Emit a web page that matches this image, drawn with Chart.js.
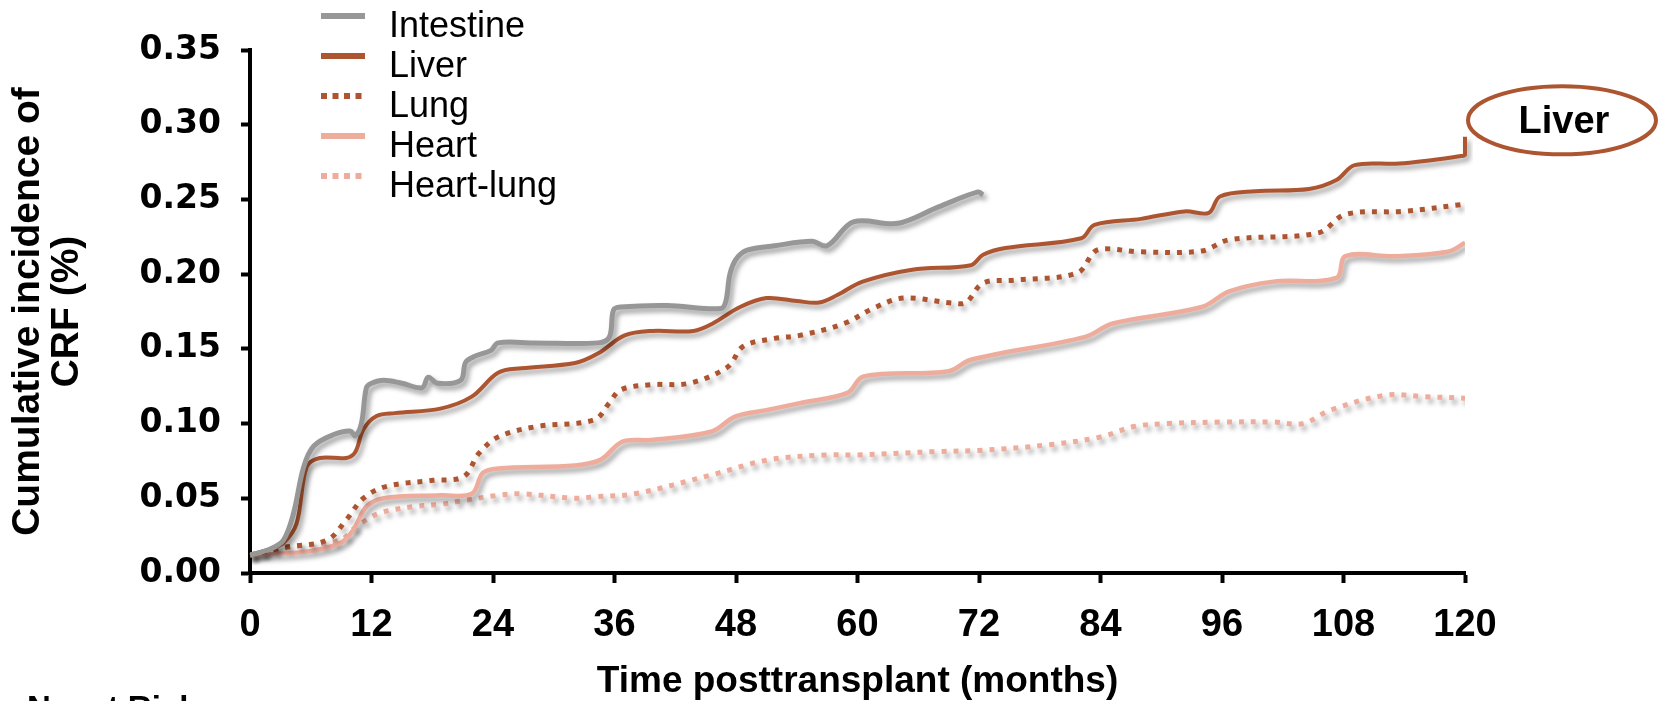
<!DOCTYPE html>
<html>
<head>
<meta charset="utf-8">
<script src="https://cdn.jsdelivr.net/npm/chart.js@4/dist/chart.umd.min.js"></script>
<style>
  body { margin: 0; background: #fff; }
  canvas { display: block; }
</style>
</head>
<body>
<canvas id="crfChart" width="1663" height="701"></canvas>
<script>
const ctx = document.getElementById('crfChart').getContext('2d');

// months posttransplant and cumulative incidence
const intestineMonths = [0, 2, 3.3, 4.3, 5.3, 6.3, 8.2, 9.9, 10.4, 11, 11.5, 12, 13.2, 15, 17, 17.6, 18.5, 20.8, 21.3, 22.2, 23.8, 24.5, 28, 34.4, 35.5, 35.9, 36.6, 41.2, 46.5, 47, 47.4, 48, 49.1, 51.8, 55.5, 57, 59.6, 64, 68, 71.9, 72.4];
const intestineCif = [0.012, 0.016, 0.022, 0.040, 0.071, 0.085, 0.0925, 0.095, 0.092, 0.100, 0.124, 0.127, 0.129, 0.127, 0.124, 0.131, 0.127, 0.129, 0.141, 0.145, 0.149, 0.154, 0.154, 0.154, 0.158, 0.176, 0.178, 0.179, 0.177, 0.182, 0.200, 0.210, 0.216, 0.219, 0.222, 0.219, 0.235, 0.234, 0.245, 0.255, 0.253];

const liverMonths = [0, 2, 3.3, 4.6, 5.6, 6.9, 9.5, 10.4, 11.2, 12.5, 14.3, 18.8, 21.9, 24.5, 26.8, 32.1, 34.4, 37, 39.7, 43.8, 45.7, 48.4, 51, 54, 56.2, 58, 60.5, 65.4, 71.2, 72.4, 74.6, 82.1, 83.4, 88, 92.3, 94.7, 95.8, 99.3, 104.6, 107.3, 109.1, 113.5, 119.6, 120, 120];
const liverCif = [0.012, 0.016, 0.020, 0.033, 0.071, 0.077, 0.077, 0.081, 0.096, 0.105, 0.107, 0.110, 0.118, 0.134, 0.137, 0.1405, 0.147, 0.159, 0.162, 0.162, 0.167, 0.178, 0.184, 0.182, 0.181, 0.186, 0.195, 0.203, 0.206, 0.213, 0.2175, 0.224, 0.233, 0.237, 0.242, 0.241, 0.252, 0.2555, 0.257, 0.263, 0.273, 0.274, 0.279, 0.280, 0.292];

const lungMonths = [0, 3.3, 7.6, 9.5, 11.2, 13.5, 18.1, 21.1, 22.6, 24.5, 28.3, 34, 35.5, 36.6, 39.6, 43.4, 47.2, 48.7, 51.8, 54.3, 58.7, 61.5, 64.5, 69.3, 70.7, 72.4, 75.5, 81.7, 83.4, 84.5, 87.8, 94, 96.7, 105.5, 108.2, 113.9, 119.7];
const lungCif = [0.012, 0.017, 0.022, 0.0355, 0.050, 0.058, 0.062, 0.0645, 0.080, 0.091, 0.098, 0.1025, 0.114, 0.1226, 0.126, 0.127, 0.138, 0.1516, 0.157, 0.159, 0.167, 0.177, 0.184, 0.1807, 0.181, 0.194, 0.196, 0.2008, 0.215, 0.217, 0.215, 0.2155, 0.223, 0.2276, 0.240, 0.242, 0.2466];

const heartMonths = [0, 5.6, 8.9, 10.2, 11.5, 13.2, 18.8, 21.9, 23, 24.5, 32.1, 34.6, 36.8, 39.6, 45.6, 47.9, 51, 54.3, 59, 60.6, 69, 71.2, 82.5, 85.2, 94, 96.7, 101.1, 107.3, 108.2, 113, 118.3, 120];
const heartCif = [0.012, 0.0143, 0.020, 0.0288, 0.0444, 0.050, 0.052, 0.053, 0.067, 0.070, 0.072, 0.0757, 0.088, 0.089, 0.0947, 0.1047, 0.109, 0.1137, 0.1205, 0.1315, 0.135, 0.1427, 0.158, 0.167, 0.178, 0.1885, 0.195, 0.1975, 0.212, 0.212, 0.215, 0.221];

const heartLungMonths = [0, 4.3, 8.9, 10.5, 12.8, 16.1, 18.8, 20.7, 24.5, 26.8, 32.1, 34, 38, 45.6, 51.2, 56.8, 60, 67.9, 72, 78.9, 84, 87.3, 90.6, 96, 101.1, 104, 106.7, 112.2, 116, 120];
const heartLungCif = [0.012, 0.0176, 0.022, 0.031, 0.040, 0.0444, 0.046, 0.048, 0.052, 0.053, 0.050, 0.051, 0.053, 0.0657, 0.0757, 0.079, 0.079, 0.0813, 0.082, 0.0858, 0.091, 0.098, 0.100, 0.101, 0.101, 0.100, 0.109, 0.119, 0.118, 0.117];

const xTicks = [0, 12, 24, 36, 48, 60, 72, 84, 96, 108, 120];
const yTicks = ['0.00', '0.05', '0.10', '0.15', '0.20', '0.25', '0.30', '0.35'];

const toPoints = (xs, ys) => xs.map((x, i) => ({ x: x, y: ys[i] }));

const grey = '#979797';
const rust = '#AD5530';
const salmon = '#EEAC9D';

const data = {
    datasets: [
        { label: 'Intestine', data: toPoints(intestineMonths, intestineCif), borderColor: grey, borderWidth: 5 },
        { label: 'Liver', data: toPoints(liverMonths, liverCif), borderColor: rust, borderWidth: 4, clip: 8 },
        { label: 'Lung', data: toPoints(lungMonths, lungCif), borderColor: rust, borderWidth: 5, borderDash: [5, 7] },
        { label: 'Heart', data: toPoints(heartMonths, heartCif), borderColor: salmon, borderWidth: 4.5 },
        { label: 'Heart-lung', data: toPoints(heartLungMonths, heartLungCif), borderColor: salmon, borderWidth: 5, borderDash: [5, 7] }
    ]
};

// soft drop shadow under every curve
const shadowPlugin = {
    id: 'curveShadow',
    beforeDatasetDraw(chart) {
        const c = chart.ctx;
        c.save();
        c.shadowColor = 'rgba(0,0,0,0.38)';
        c.shadowBlur = 5;
        c.shadowOffsetX = 3;
        c.shadowOffsetY = 4;
    },
    afterDatasetDraw(chart) {
        chart.ctx.restore();
    }
};

// legend in the upper left, the "Liver" callout and the cut-off "No. at Risk"
const extrasPlugin = {
    id: 'extras',
    afterDraw(chart) {
        const c = chart.ctx;
        const area = chart.chartArea;
        c.save();
        chart.data.datasets.forEach((ds, i) => {
            const y = 16 + i * 40;
            c.strokeStyle = ds.borderColor;
            c.lineWidth = 6;
            c.lineCap = 'butt';
            c.setLineDash(ds.borderDash ? [6, 5.5] : []);
            c.beginPath();
            c.moveTo(321, y);
            c.lineTo(365, y);
            c.stroke();
            c.setLineDash([]);
            c.fillStyle = '#000';
            c.font = "36px 'Liberation Sans', Arial, sans-serif";
            c.textAlign = 'left';
            c.textBaseline = 'alphabetic';
            c.fillText(ds.label, 389, y + 21);
        });

        const cx = area.right + 97;
        const cy = chart.scales.y.getPixelForValue(0.303);
        c.strokeStyle = rust;
        c.lineWidth = 4;
        c.beginPath();
        c.ellipse(cx, cy, 94, 34, 0, 0, Math.PI * 2);
        c.stroke();
        c.fillStyle = '#000';
        c.font = "bold 38px 'Liberation Sans', Arial, sans-serif";
        c.textAlign = 'center';
        c.textBaseline = 'middle';
        c.fillText('Liver', cx + 2, cy + 2);

        c.textAlign = 'left';
        c.textBaseline = 'alphabetic';
        c.font = "bold 33px 'Liberation Sans', Arial, sans-serif";
        c.fillText('No. at Risk', 27, 719);
        c.restore();
    }
};

const config = {
    type: 'line',
    data: data,
    options: {
        responsive: false,
        animation: false,
        layout: {
            padding: { top: 50, right: 198, left: 0, bottom: 0 }
        },
        elements: {
            point: { radius: 0 },
            line: { tension: 0.35, fill: false, borderCapStyle: 'butt' }
        },
        plugins: {
            legend: { display: false },
            tooltip: { enabled: false }
        },
        scales: {
            x: {
                type: 'linear',
                min: 0,
                max: 120,
                afterFit: (s) => { s.height = 128; },
                afterBuildTicks: (s) => { s.ticks = xTicks.map(v => ({ value: v })); },
                grid: {
                    drawOnChartArea: false,
                    color: '#000',
                    tickLength: 10,
                    tickWidth: 4
                },
                border: { display: true, color: '#000', width: 4 },
                ticks: {
                    color: '#000',
                    padding: 20,
                    maxRotation: 0,
                    font: { size: 38, weight: 'bold' }
                },
                title: {
                    display: true,
                    text: 'Time posttransplant (months)',
                    color: '#000',
                    padding: { top: 0, bottom: 0 },
                    font: { size: 37, weight: 'bold', lineHeight: 1.05 }
                }
            },
            y: {
                type: 'linear',
                min: 0,
                max: 0.35,
                afterFit: (s) => { s.width = 250; },
                grid: {
                    drawOnChartArea: false,
                    color: '#000',
                    tickLength: 9,
                    tickWidth: 4
                },
                border: { display: true, color: '#000', width: 4 },
                ticks: {
                    stepSize: 0.05,
                    color: '#000',
                    padding: 20,
                    font: { family: "'DejaVu Sans', sans-serif", size: 33, weight: 'bold' },
                    callback: (v, i) => yTicks[i]
                },
                title: {
                    display: true,
                    text: ['Cumulative incidence of', 'CRF (%)'],
                    color: '#000',
                    padding: { top: 9, bottom: 0 },
                    font: { size: 39, weight: 'bold', lineHeight: 1.0 }
                }
            }
        }
    },
    plugins: [shadowPlugin, extrasPlugin]
};

Chart.defaults.font.family = "'Liberation Sans', Arial, sans-serif";
const crfChart = new Chart(ctx, config);
</script>
</body>
</html>
